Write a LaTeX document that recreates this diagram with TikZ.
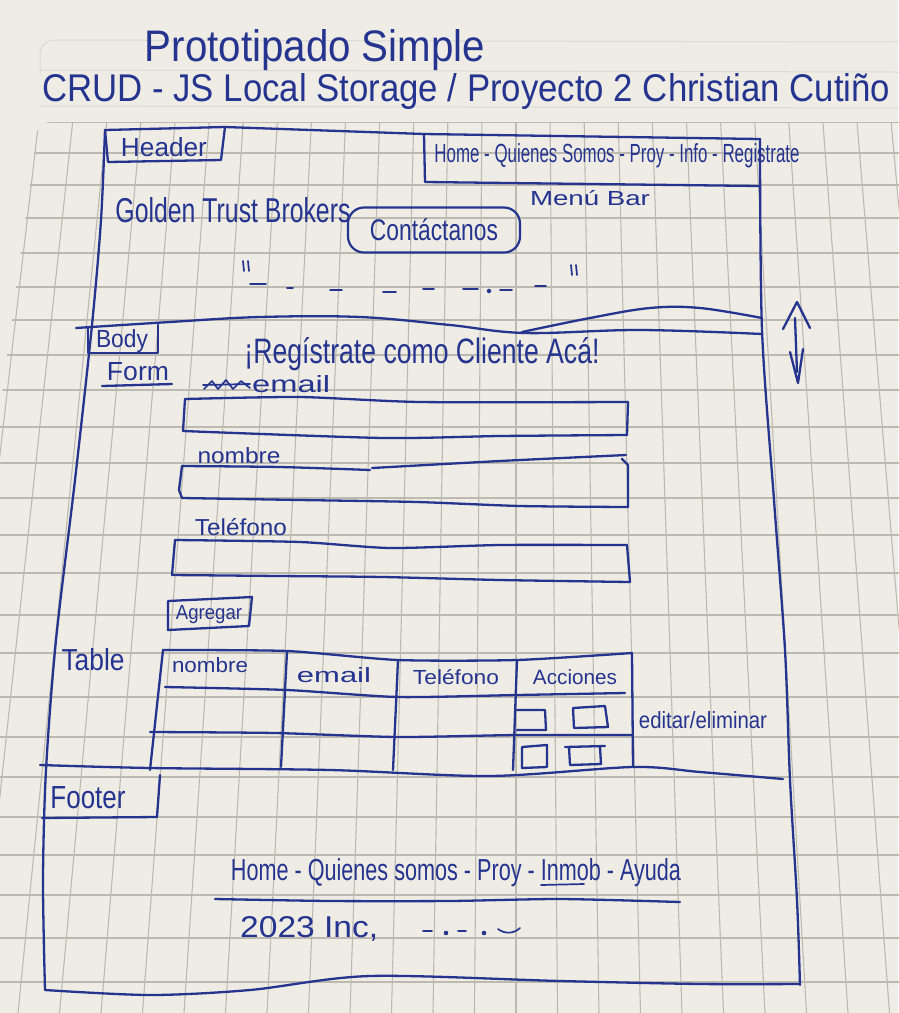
\documentclass[tikz,border=0pt]{standalone}
\usepackage{fontspec}
\setmainfont{Liberation Sans}
\usepackage{graphicx}
\definecolor{paper}{HTML}{EEECE4}
\definecolor{gridc}{HTML}{BCB9B1}
\definecolor{ink}{HTML}{25348F}
\newcommand\hwt[3]{\resizebox{#1pt}{#2pt}{#3}}
\begin{document}
\begin{tikzpicture}[x=1pt,y=-1pt,
  ink/.style={draw=ink, line width=2.3pt, line cap=round, line join=round},
  inkthin/.style={draw=ink, line width=1.7pt, line cap=round, line join=round},
  hw/.style={text=ink, inner sep=0pt, anchor=center},
  gridline/.style={draw=gridc, line width=1.1pt},
  faint/.style={draw=gridc!55, line width=1pt}]
\fill[paper] (0,0) rectangle (898,1013);
\useasboundingbox (0,0) rectangle (898,1013);

% notebook header strip
\draw[faint, rounded corners=14pt] (40,75) -- (40,40) -- (898,42);
\draw[faint] (40,70) -- (898,72);
\draw[faint] (40,106) -- (898,108);

% grid
\begin{scope}
\clip[rounded corners=12pt] (-80,1013) -- (38,122) -- (960,122) -- (960,1013) -- cycle;
\foreach \k in {-17,...,12} \draw[gridline] ({516+\k*34.1},122) -- ({516+\k*41.5},1013);
\foreach \y in {122,153,185,218,253,287,320,355,390,427,463,498,535,573,615,653,697,737,777,817,855,895,938,982}
  \draw[gridline] (-100,\y) -- (960,\y);
\end{scope}

% titles
\node[hw] (t1) at (315,50) {\hwt{340}{32}{Prototipado Simple}};
\node[hw, anchor=west] (t2) at (42,92) {\hwt{848}{28}{CRUD - JS Local Storage / Proyecto 2 Christian Cutiño}};

% outer frame
\draw[ink] plot[smooth, tension=0.5] coordinates {(105,130) (101,220) (92,325) (75,480) (56,640) (46,770) (43,880) (45,990)};
\draw[ink] (105,130) -- (225,127) -- (424,134) -- (760,139);
\draw[ink] plot[smooth, tension=0.5] coordinates {(760,139) (762,330) (774,500) (785,650) (790,780) (797,900) (800,985)};
\draw[ink] plot[smooth, tension=0.5] coordinates {(45,990) (150,995) (250,990) (370,976) (560,981) (700,984) (800,984)};

% header
\draw[ink] (105,130) -- (108,162) -- (221,160) -- (225,127);
\node[hw] (header) at (164,147) {\hwt{86}{19}{Header}};
\draw[ink] (424,134) -- (425,182) -- (759,186);
\node[hw] (menu) at (617,156) {\hwt{365}{19}{Home - Quienes Somos - Proy - Info - Registrate}};
\node[hw] (menubar) at (590,198) {\hwt{120}{15}{Menú Bar}};
\node[hw] (brand) at (233,210) {\hwt{235}{25}{Golden Trust Brokers}};
\node[draw=ink, line width=2.2pt, rounded corners=16pt, minimum width=172pt, minimum height=45pt, inner sep=0pt, text=ink] (contact) at (434,230) {\hwt{128}{22}{Contáctanos}};

% placeholder text
\draw[inkthin] (243,261) -- (244,271) (248,261) -- (249,271);
\draw[inkthin] (571,265) -- (572,275) (576,265) -- (577,275);
\foreach \a/\b/\y in {250/266/284, 287/293/288, 330/342/290, 383/396/292, 423/434/289, 463/478/289, 500/512/290, 535/546/286}
  \draw[inkthin] (\a,\y) -- (\b,\y);
\fill[ink] (489,291) circle (1.3pt);

% header / body separation
\draw[ink] plot[smooth, tension=0.6] coordinates {(76,328) (170,322) (260,317) (360,317) (450,325) (525,333) (640,330) (762,334)};
\draw[ink] plot[smooth, tension=0.6] coordinates {(522,332) (590,318) (650,308) (700,308) (762,318)};

% scroll arrow
\draw[ink] (783,329) -- (797,302) -- (810,328);
\draw[ink] (795,318) -- (797,372);
\draw[ink] (790,352) -- (798,383) -- (803,349);

% body
\draw[ink] (88,327) -- (88,353) -- (158,353) -- (158,325);
\node[hw] (body) at (122,341) {\hwt{52}{18}{Body}};
\node[hw] (form) at (138,372) {\hwt{62}{18}{Form}};
\draw[ink] (102,386) -- (172,384);
\node[hw] (reg) at (422,354) {\hwt{355}{26}{¡Regístrate como Cliente Acá!}};

% email
\draw[inkthin] (204,389) -- (212,381) -- (218,389) -- (226,380) -- (233,389) -- (241,381) -- (250,388);
\draw[inkthin] (203,385) -- (250,384);
\node[hw, anchor=west] (lemail) at (252,384) {\hwt{78}{17}{email}};
\draw[ink] plot[smooth, tension=0.4] coordinates {(185,399) (300,397) (420,402) (628,402)};
\draw[ink] (628,402) -- (627,435);
\draw[ink] plot[smooth, tension=0.4] coordinates {(627,435) (500,436) (383,438) (183,431)};
\draw[ink] (183,431) -- (185,399);

% nombre
\node[hw] (lnombre) at (239,456) {\hwt{83}{16}{nombre}};
\draw[ink] plot[smooth, tension=0.4] coordinates {(182,466) (280,467) (370,470)};
\draw[ink] plot[smooth, tension=0.4] coordinates {(372,468) (500,461) (626,455)};
\draw[ink] (622,459) -- (628,465) -- (628,507);
\draw[ink] plot[smooth, tension=0.4] coordinates {(628,507) (520,506) (417,502) (300,500) (182,498)};
\draw[ink] (182,498) -- (179,490) -- (182,466);

% telefono
\node[hw] (ltel) at (241,527) {\hwt{92}{17}{Teléfono}};
\draw[ink] plot[smooth, tension=0.4] coordinates {(175,540) (300,542) (390,548) (500,545) (627,545)};
\draw[ink] (627,545) -- (630,582);
\draw[ink] plot[smooth, tension=0.4] coordinates {(630,582) (500,580) (383,577) (280,576) (172,575)};
\draw[ink] (172,575) -- (175,540);

% agregar
\draw[ink] (168,601) -- (252,597) -- (249,626) -- (168,630) -- cycle;
\node[hw] (agregar) at (209,615) {\hwt{66}{14}{Agregar}};

% table
\node[hw] (ltable) at (93,660) {\hwt{63}{22}{Table}};
\draw[ink] plot[smooth, tension=0.4] coordinates {(163,650) (287,651) (398,660) (517,660) (632,653)};
\draw[ink] plot[smooth, tension=0.4] coordinates {(165,687) (287,690) (398,697) (517,695) (625,693)};
\draw[ink] plot[smooth, tension=0.4] coordinates {(150,732) (275,733) (398,737) (517,735) (632,735)};
\draw[ink] (163,650) -- (150,770);
\draw[ink] (287,652) -- (281,767);
\draw[ink] (398,660) -- (393,770);
\draw[ink] (517,660) -- (513,770);
\draw[ink] (632,653) -- (633,767);
\node[hw] (hnombre) at (210,665) {\hwt{76}{15}{nombre}};
\node[hw] (hemail) at (334,675) {\hwt{74}{15}{email}};
\node[hw] (htel) at (456,677) {\hwt{86}{15}{Teléfono}};
\node[hw] (hacc) at (575,677) {\hwt{84}{15}{Acciones}};
\draw[ink] (517,710) -- (545,710) -- (546,730) -- (517,730);
\draw[ink] (573,708) -- (605,706) -- (608,727) -- (574,728) -- cycle;
\draw[ink] (522,747) -- (547,745) -- (547,767) -- (522,768) -- cycle;
\draw[ink] (565,747) -- (605,746) (569,747) -- (570,765) -- (601,764) -- (600,747);
\node[hw] (edit) at (703,720) {\hwt{128}{17}{editar/eliminar}};

% footer
\draw[ink] plot[smooth, tension=0.5] coordinates {(40,765) (150,768) (330,770) (490,776) (633,767) (700,772) (783,779)};
\draw[ink] (160,775) -- (157,817);
\draw[ink] (42,818) -- (157,817);
\node[hw] (footer) at (88,798) {\hwt{75}{22}{Footer}};
\node[hw] (fnav) at (456,873) {\hwt{450}{22}{Home - Quienes somos - Proy - Inmob - Ayuda}};
\draw[ink] plot[smooth, tension=0.4] coordinates {(215,899) (330,901) (450,901) (560,899) (680,902)};
\draw[inkthin] (541,885) -- (584,884);
\node[hw, anchor=west] (copy) at (240,929) {\hwt{138}{21}{2023 Inc,}};
\draw[inkthin] (423,931) -- (432,931) (458,931) -- (466,931) (498,929) to[bend right=40] (520,928);
\fill[ink] (446,933) circle (1.4pt) (484,933) circle (1.4pt);
\end{tikzpicture}
\end{document}
